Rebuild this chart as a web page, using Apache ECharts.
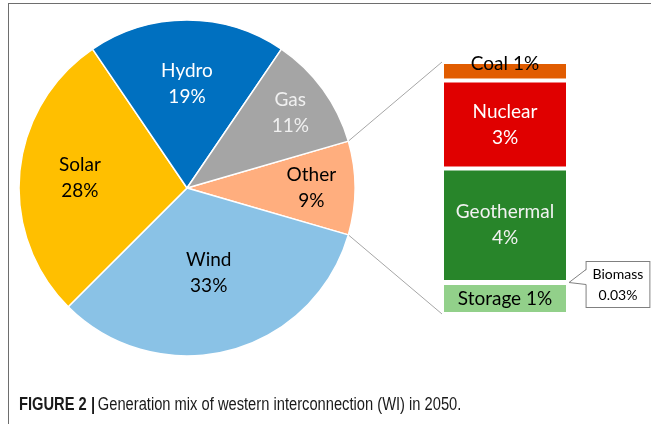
<!DOCTYPE html>
<html>
<head>
<meta charset="utf-8">
<script src="https://cdn.jsdelivr.net/npm/echarts@6/dist/echarts.min.js"></script>
<style>
  html, body { margin: 0; padding: 0; background: #fff; }
  #wrap { position: relative; width: 651px; height: 424px; overflow: hidden; }
  #chart { width: 651px; height: 424px; }
  .frame {
    position: absolute; left: 8px; top: 3px; width: 700px; height: 500px;
    border-left: 1px solid #6e6e6e; border-top: 1px solid #6e6e6e;
    pointer-events: none;
  }
</style>
</head>
<body>
<div id="wrap"><div id="chart"></div><div class="frame"></div></div>
<script>
// main pie, clockwise starting with "Other" (centered on the right)
const pieNames = ["Other", "Wind", "Solar", "Hydro", "Gas"];
const pieValues = [9, 33, 28, 19, 11];
const pieColors = ["#FFAE7E", "#8AC2E6", "#FFBF00", "#0070C0", "#A5A5A5"];
const pieTextColors = ["#000", "#000", "#000", "#fff", "#f0f0f0"];
// how far out (fraction of radius) each label sits
const pieLabelRadius = [0.74, 0.52, 0.64, 0.62, 0.76];

// breakdown of "Other", bottom to top
const barNames = ["Storage", "Biomass", "Geothermal", "Nuclear", "Coal"];
const barValues = [1.11, 0.03, 4.06, 3.14, 0.66];
const barLabels = ["Storage 1%", "{c|Biomass}\n{c|0.03%}", "Geothermal\n4%", "Nuclear\n3%", "Coal 1%"];
const barColors = ["#92D08A", "#70AD47", "#28852A", "#E00000", "#E15C00"];
const barTextColors = ["#000", "#000", "#f2f2f2", "#fff", "#000"];

const captionBold = "FIGURE 2 |";
const caption = "Generation mix of western interconnection (WI) in 2050.";

const pieCenter = [187, 188];
const pieRadius = 168;
const pieTotal = pieValues.reduce((a, b) => a + b, 0);
const otherAngle = (pieValues[0] / pieTotal) * 360;
const startAngle = otherAngle / 2;
const barTotal = barValues.reduce((a, b) => a + b, 0);

// mid angle of every slice (degrees, counter-clockwise from 3 o'clock)
const pieMidAngles = [];
let acc = 0;
pieValues.forEach((v) => {
  pieMidAngles.push(startAngle - ((acc + v / 2) / pieTotal) * 360);
  acc += v;
});

const chart = echarts.init(document.getElementById("chart"));

const barSeries = barNames.map((name, i) => {
  const s = {
    name: name,
    type: "bar",
    stack: "other",
    barWidth: "100%",
    data: [barValues[i]],
    itemStyle: { color: barColors[i], borderColor: "#fff", borderWidth: 2 },
    label: {
      show: true,
      position: "inside",
      formatter: barLabels[i],
      color: barTextColors[i],
      fontFamily: "Lato",
      fontSize: 19,
      lineHeight: 26,
    },
    silent: true,
  };
  if (name === "Coal") {
    s.label.offset = [0, -7];
  }
  if (name === "Biomass") {
    s.label = {
      show: true,
      position: "right",
      distance: 18,
      offset: [0, 2],
      formatter: barLabels[i],
      backgroundColor: "#fff",
      borderColor: "#808080",
      borderWidth: 1,
      padding: [2, 6, 1, 6],
      rich: {
        c: { align: "center", color: "#000", fontFamily: "Lato", fontSize: 14, lineHeight: 21 },
      },
    };
  }
  return s;
});

const option = {
  animation: false,
  grid: { left: 442, top: 62, width: 126, height: 252 },
  xAxis: { type: "category", data: ["Other"], show: false },
  yAxis: { type: "value", min: 0, max: barTotal, show: false },
  series: [
    {
      type: "pie",
      center: pieCenter,
      radius: pieRadius,
      startAngle: startAngle,
      clockwise: true,
      percentPrecision: 0,
      silent: true,
      itemStyle: { borderColor: "#fff", borderWidth: 1.5 },
      label: {
        show: true,
        position: "inside",
        formatter: "{b}\n{d}%",
        fontFamily: "Lato",
        fontSize: 19,
        lineHeight: 26,
      },
      labelLayout: (params) => {
        const i = params.dataIndex;
        const a = (pieMidAngles[i] * Math.PI) / 180;
        const d = pieLabelRadius[i] * pieRadius;
        return {
          x: pieCenter[0] + d * Math.cos(a),
          y: pieCenter[1] - d * Math.sin(a),
          align: "center",
          verticalAlign: "middle",
        };
      },
      data: pieNames.map((name, i) => ({
        name: name,
        value: pieValues[i],
        itemStyle: { color: pieColors[i] },
        label: { color: pieTextColors[i] },
      })),
    },
    ...barSeries,
  ],
};

chart.setOption(option);

// connector lines from the "Other" slice edges to the bar corners
const gridRect = chart.getModel().getComponent("grid", 0).coordinateSystem.getRect();
const barTop = chart.convertToPixel({ yAxisIndex: 0 }, barTotal);
const barBottom = chart.convertToPixel({ yAxisIndex: 0 }, 0);
const a1 = (startAngle * Math.PI) / 180;
const a2 = ((startAngle - otherAngle) * Math.PI) / 180;
const p1 = [pieCenter[0] + pieRadius * Math.cos(a1), pieCenter[1] - pieRadius * Math.sin(a1)];
const p2 = [pieCenter[0] + pieRadius * Math.cos(a2), pieCenter[1] - pieRadius * Math.sin(a2)];

// callout notch pointing from the Biomass box to its sliver in the bar
const bioY = chart.convertToPixel({ yAxisIndex: 0 }, barValues[0] + barValues[1] / 2);
const barRight = gridRect.x + gridRect.width;
const tip = [barRight + 1, bioY];
const boxX = barRight + 18;

const captionFont = "'Liberation Sans', Arial, sans-serif";

chart.setOption({
  graphic: [
    {
      type: "line",
      silent: true,
      shape: { x1: p1[0], y1: p1[1], x2: gridRect.x, y2: barTop },
      style: { stroke: "#a6a6a6", lineWidth: 1 },
    },
    {
      type: "line",
      silent: true,
      shape: { x1: p2[0], y1: p2[1], x2: gridRect.x, y2: barBottom },
      style: { stroke: "#a6a6a6", lineWidth: 1 },
    },
    {
      type: "polygon",
      silent: true,
      z: 100,
      shape: { points: [[boxX + 1, bioY - 13], tip, [boxX + 1, bioY + 2]] },
      style: { fill: "#fff" },
    },
    {
      type: "polyline",
      silent: true,
      z: 101,
      shape: { points: [[boxX, bioY - 13], tip, [boxX, bioY + 2]] },
      style: { stroke: "#808080", lineWidth: 1, fill: null },
    },
    {
      type: "text",
      silent: true,
      x: 19,
      y: 405,
      scaleX: 0.84,
      style: {
        text: "{b|" + captionBold + "} {r|" + caption + "}",
        verticalAlign: "middle",
        rich: {
          b: { fontFamily: captionFont, fontWeight: "bold", fontSize: 17.5, fill: "#1a1a1a" },
          r: { fontFamily: captionFont, fontWeight: "normal", fontSize: 17.5, fill: "#1a1a1a" },
        },
      },
    },
  ],
});

window.addEventListener("resize", () => {
  chart && chart.resize();
});
</script>
</body>
</html>
